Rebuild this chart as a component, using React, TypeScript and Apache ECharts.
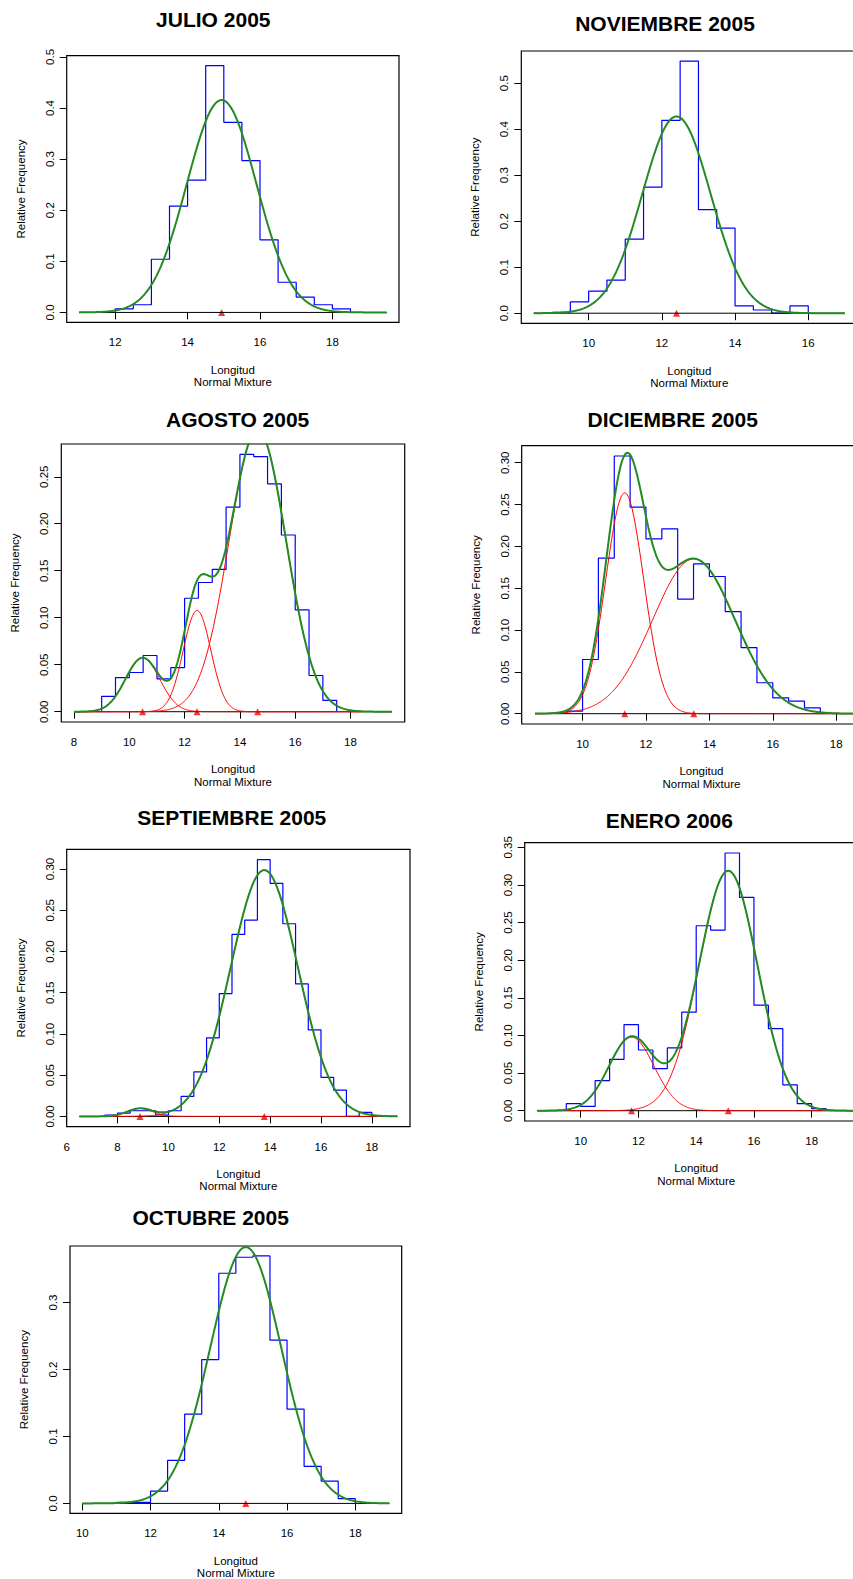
import React, { useEffect, useRef } from "react";
import * as echarts from "echarts";

// ---------------- data ----------------
const BIN_WIDTH = 0.5;

// JULIO 2005
const julioBinStart = 12.0;
const julioFreq = [0.007, 0.015, 0.104, 0.208, 0.259, 0.483, 0.372, 0.297, 0.142, 0.059, 0.03, 0.015, 0.007];
const julioPi = [1];
const julioMu = [14.94];
const julioSd = [0.96];
const julioRange = [11, 19.5];
const julioXTicks = [12, 14, 16, 18];
const julioYTicks = [0, 0.1, 0.2, 0.3, 0.4, 0.5];

// NOVIEMBRE 2005
const novBinStart = 9.0;
const novFreq = [0.002, 0.0246, 0.048, 0.072, 0.161, 0.274, 0.419, 0.548, 0.225, 0.185, 0.016, 0.007, 0, 0.016];
const novPi = [1];
const novMu = [12.4];
const novSd = [0.933];
const novRange = [8.5, 17];
const novXTicks = [10, 12, 14, 16];
const novYTicks = [0, 0.1, 0.2, 0.3, 0.4, 0.5];

// AGOSTO 2005
const agoBinStart = 9.0;
const agoFreq = [0.0164, 0.0363, 0.0417, 0.0598, 0.0349, 0.047, 0.1207, 0.1375, 0.1514, 0.2176, 0.2739, 0.2714, 0.2425, 0.188, 0.1083, 0.0385, 0.0121];
const agoPi = [0.089, 0.135, 0.776];
const agoMu = [10.48, 12.45, 14.64];
const agoSd = [0.62, 0.5, 1.032];
const agoRange = [8, 19.5];
const agoCompRange = [8, 18.4];
const agoXTicks = [8, 10, 12, 14, 16, 18];
const agoYTicks = [0, 0.05, 0.1, 0.15, 0.2, 0.25];

// DICIEMBRE 2005
const dicBinStart = 9.5;
const dicFreq = [0.003, 0.0648, 0.186, 0.308, 0.247, 0.209, 0.221, 0.137, 0.179, 0.164, 0.122, 0.079, 0.037, 0.019, 0.015, 0.007];
const dicPi = [0.397, 0.603];
const dicMu = [11.33, 13.51];
const dicSd = [0.6, 1.3];
const dicRange = [8.5, 19];
const dicXTicks = [10, 12, 14, 16, 18];
const dicYTicks = [0, 0.05, 0.1, 0.15, 0.2, 0.25, 0.3];

// SEPTIEMBRE 2005
const sepBinStart = 7.5;
const sepFreq = [0.0017, 0.0041, 0.0069, 0.0069, 0.0017, 0.0069, 0.0243, 0.054, 0.0953, 0.149, 0.2206, 0.238, 0.3114, 0.2826, 0.2336, 0.1606, 0.105, 0.0474, 0.032, 0, 0.0049];
const sepPi = [0.012, 0.988];
const sepMu = [8.88, 13.77];
const sepSd = [0.5, 1.32];
const sepRange = [6.5, 19];
const sepXTicks = [6, 8, 10, 12, 14, 16, 18];
const sepYTicks = [0, 0.05, 0.1, 0.15, 0.2, 0.25, 0.3];

// ENERO 2006
const eneBinStart = 9.5;
const eneFreq = [0.0093, 0.0058, 0.04, 0.0683, 0.1145, 0.0807, 0.0559, 0.0834, 0.1309, 0.2458, 0.24, 0.3425, 0.2835, 0.1402, 0.1091, 0.0342, 0.0093, 0.0027];
const enePi = [0.191, 0.809];
const eneMu = [11.76, 15.11];
const eneSd = [0.78, 1.012];
const eneRange = [8.5, 19.5];
const eneXTicks = [10, 12, 14, 16, 18];
const eneYTicks = [0, 0.05, 0.1, 0.15, 0.2, 0.25, 0.3, 0.35];

// OCTUBRE 2005
const octBinStart = 11.0;
const octFreq = [0.0015, 0.0015, 0.0184, 0.0642, 0.1333, 0.2149, 0.3438, 0.3677, 0.3697, 0.2438, 0.1408, 0.0552, 0.0333, 0.007];
const octPi = [1];
const octMu = [14.79];
const octSd = [1.042];
const octRange = [10, 19];
const octXTicks = [10, 12, 14, 16, 18];
const octYTicks = [0, 0.1, 0.2, 0.3];

// ---------------- layout ----------------
const W = 853;
const H = 1579;
const FONT = '"Liberation Sans", Arial, Helvetica, sans-serif';

type Panel = {
  title: string;
  tx: number;
  ty: number;
  box: number[]; // left, top, width, height
  binStart: number;
  freq: number[];
  pi: number[];
  mu: number[];
  sd: number[];
  range: number[];
  compRange: number[];
  xTicks: number[];
  yTicks: number[];
  yDec: number;
};

const panels: Panel[] = [
  { title: "JULIO 2005", tx: 213.3, ty: 19.5, box: [66.7, 55.7, 332.3, 266.6], binStart: julioBinStart, freq: julioFreq, pi: julioPi, mu: julioMu, sd: julioSd, range: julioRange, compRange: julioRange, xTicks: julioXTicks, yTicks: julioYTicks, yDec: 1 },
  { title: "NOVIEMBRE 2005", tx: 665, ty: 23.5, box: [521.3, 51, 336, 272.3], binStart: novBinStart, freq: novFreq, pi: novPi, mu: novMu, sd: novSd, range: novRange, compRange: novRange, xTicks: novXTicks, yTicks: novYTicks, yDec: 1 },
  { title: "AGOSTO 2005", tx: 237.7, ty: 419.7, box: [61.3, 444, 343.4, 278], binStart: agoBinStart, freq: agoFreq, pi: agoPi, mu: agoMu, sd: agoSd, range: agoRange, compRange: agoCompRange, xTicks: agoXTicks, yTicks: agoYTicks, yDec: 2 },
  { title: "DICIEMBRE 2005", tx: 672.7, ty: 419.7, box: [521.7, 445.7, 359.5, 278.3], binStart: dicBinStart, freq: dicFreq, pi: dicPi, mu: dicMu, sd: dicSd, range: dicRange, compRange: dicRange, xTicks: dicXTicks, yTicks: dicYTicks, yDec: 2 },
  { title: "SEPTIEMBRE 2005", tx: 231.7, ty: 817.5, box: [66.7, 849.3, 343.3, 277.4], binStart: sepBinStart, freq: sepFreq, pi: sepPi, mu: sepMu, sd: sepSd, range: sepRange, compRange: sepRange, xTicks: sepXTicks, yTicks: sepYTicks, yDec: 2 },
  { title: "ENERO 2006", tx: 669.3, ty: 820.8, box: [524.7, 842.7, 343, 278.3], binStart: eneBinStart, freq: eneFreq, pi: enePi, mu: eneMu, sd: eneSd, range: eneRange, compRange: eneRange, xTicks: eneXTicks, yTicks: eneYTicks, yDec: 2 },
  { title: "OCTUBRE 2005", tx: 210.7, ty: 1217.5, box: [70, 1246, 331.7, 267.3], binStart: octBinStart, freq: octFreq, pi: octPi, mu: octMu, sd: octSd, range: octRange, compRange: octRange, xTicks: octXTicks, yTicks: octYTicks, yDec: 1 },
];

// fitted normal-mixture model (parameters)
function normalPdf(x: number, mu: number, sd: number) {
  const z = (x - mu) / sd;
  return Math.exp(-0.5 * z * z) / (sd * Math.sqrt(2 * Math.PI));
}

function sampleX(lo: number, hi: number) {
  const xs: number[] = [];
  const n = 400;
  for (let i = 0; i <= n; i++) xs.push(lo + ((hi - lo) * i) / n);
  return xs;
}

function histOutline(start: number, freq: number[]) {
  const pts: number[][] = [[start, 0]];
  freq.forEach((f, i) => pts.push([start + i * BIN_WIDTH, f]));
  pts.push([start + freq.length * BIN_WIDTH, 0]);
  return pts;
}

const TEXT = { color: "#000", fontFamily: FONT, fontSize: 11.5 };

function buildOption() {
  const grid: any[] = [];
  const xAxis: any[] = [];
  const yAxis: any[] = [];
  const series: any[] = [];
  const graphic: any[] = [];

  panels.forEach((p, i) => {
    const [lo, hi] = p.range;
    const span = hi - lo;
    const M = Math.max(...p.freq);
    grid.push({
      left: p.box[0],
      top: p.box[1],
      width: p.box[2],
      height: p.box[3],
      show: true,
      borderColor: "#000",
      borderWidth: 1.2,
      backgroundColor: "transparent",
      containLabel: false,
      outerBoundsMode: "none",
    });
    xAxis.push({
      type: "value",
      gridIndex: i,
      min: lo - 0.04 * span,
      max: hi + 0.04 * span,
      axisLine: { show: false },
      splitLine: { show: false },
      axisTick: { show: true, length: 7, customValues: p.xTicks, lineStyle: { color: "#000", width: 1 } },
      axisLabel: { show: true, customValues: p.xTicks, margin: 14, ...TEXT },
      name: "Longitud\nNormal Mixture",
      nameLocation: "middle",
      nameGap: 41,
      nameTextStyle: { ...TEXT, lineHeight: 12.5, verticalAlign: "top" },
    });
    yAxis.push({
      type: "value",
      gridIndex: i,
      min: -0.04 * M,
      max: 1.04 * M,
      axisLine: { show: false },
      splitLine: { show: false },
      axisTick: { show: true, length: 7, customValues: p.yTicks, lineStyle: { color: "#000", width: 1 } },
      axisLabel: {
        show: true,
        customValues: p.yTicks,
        rotate: 90,
        margin: 11,
        formatter: (v: number) => Number(v).toFixed(p.yDec),
        ...TEXT,
      },
      name: "Relative Frequency",
      nameLocation: "middle",
      nameRotate: 90,
      nameGap: 40,
      nameTextStyle: TEXT,
    });

    // histogram outline
    series.push({
      type: "line",
      xAxisIndex: i,
      yAxisIndex: i,
      step: "end",
      symbol: "none",
      silent: true,
      lineStyle: { color: "#0000FF", width: 1.2 },
      data: histOutline(p.binStart, p.freq),
    });
    // baseline
    series.push({
      type: "line",
      xAxisIndex: i,
      yAxisIndex: i,
      symbol: "none",
      silent: true,
      lineStyle: { color: "#000", width: 1 },
      data: [[lo, 0], [hi, 0]],
    });
    // components
    if (p.pi.length > 1) {
      const cx = sampleX(p.compRange[0], p.compRange[1]);
      p.pi.forEach((w, k) => {
        series.push({
          type: "line",
          xAxisIndex: i,
          yAxisIndex: i,
          symbol: "none",
          silent: true,
          lineStyle: { color: "#FF0000", width: 1 },
          data: cx.map((x) => [x, w * normalPdf(x, p.mu[k], p.sd[k])]),
        });
      });
    }
    // mixture
    const mx = sampleX(lo, hi);
    series.push({
      type: "line",
      xAxisIndex: i,
      yAxisIndex: i,
      symbol: "none",
      silent: true,
      lineStyle: { color: "#228B22", width: 2 },
      data: mx.map((x) => [x, p.pi.reduce((s, w, k) => s + w * normalPdf(x, p.mu[k], p.sd[k]), 0)]),
    });
    // component means
    series.push({
      type: "scatter",
      xAxisIndex: i,
      yAxisIndex: i,
      symbol: "triangle",
      symbolSize: 7,
      silent: true,
      itemStyle: { color: "#FF0000" },
      data: p.mu.map((m) => [m, 0]),
    });

    graphic.push({
      type: "text",
      x: p.tx,
      y: p.ty,
      style: {
        text: p.title,
        fill: "#000",
        font: `bold 21px ${FONT}`,
        fontSize: 21,
        fontWeight: "bold",
        fontFamily: FONT,
        textAlign: "center",
        textVerticalAlign: "middle",
        align: "center",
        verticalAlign: "middle",
      },
    });
  });

  return {
    animation: false,
    backgroundColor: "#fff",
    grid,
    xAxis,
    yAxis,
    series,
    graphic,
  };
}

export default function App() {
  const ref = useRef<HTMLDivElement>(null);
  useEffect(() => {
    if (!ref.current) return;
    const chart = echarts.init(ref.current, null, { renderer: "svg", width: W, height: H });
    chart.setOption(buildOption() as any);
    return () => chart.dispose();
  }, []);
  return (
    <div
      ref={ref}
      style={{ position: "absolute", left: 0, top: 0, width: W, height: H, background: "#fff", overflow: "hidden" }}
    />
  );
}
